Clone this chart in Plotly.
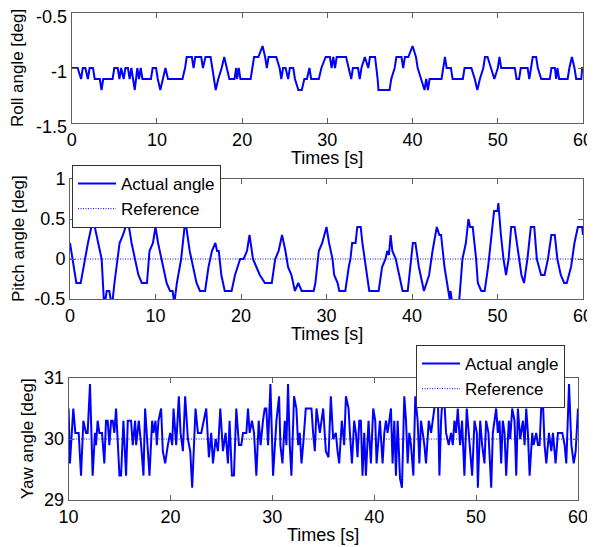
import plotly.graph_objects as go

# ---------------- data ----------------
roll_t = [0, 0.7, 1.1, 1.3, 1.6, 1.9, 2.1, 2.5, 2.7, 3.3, 3.5, 3.7, 4.8, 5.0, 5.4, 5.6, 5.8, 6.1,
          6.3, 6.6, 6.8, 7.0, 7.2, 7.4, 7.7, 7.9, 8.1, 8.3, 9.3, 9.5, 9.9, 10.1, 10.4, 10.7, 11.0,
          11.3, 13.0, 13.3, 13.5, 14.1, 14.3, 14.5, 15.2, 15.4, 15.7, 16.3, 16.7, 16.9, 17.2,
          17.6, 17.9, 18.2, 18.5, 19.1, 19.3, 19.4, 19.6, 19.8, 21.0, 21.2, 21.4, 21.9, 22.4,
          22.7, 22.9, 23.1, 24.0, 24.4, 24.6, 24.8, 25.1, 25.4, 25.6, 26.0, 26.2, 26.6, 27.0,
          27.3, 27.6, 27.9, 28.1, 29.0, 29.3, 29.8, 30.3, 30.5, 30.7, 30.9, 31.1, 32.2, 32.5,
          32.8, 33.0, 33.6, 33.8, 34.0, 34.4, 34.8, 35.0, 35.6, 35.9, 36.0, 37.3, 37.5, 37.9,
          38.1, 38.7, 38.9, 39.1, 39.5, 40.0, 40.4, 40.6, 41.0, 41.4, 41.6, 41.8, 42.0, 43.4,
          43.6, 43.8, 44.0, 44.5, 44.7, 45.9, 46.1, 46.9, 47.3, 47.6, 47.9, 48.3, 48.5, 48.8,
          49.2, 49.6, 50.0, 50.2, 50.4, 52.0, 52.2, 52.5, 52.7, 53.5, 53.7, 53.9, 54.1, 54.5,
          54.7, 55.1, 56.1, 56.3, 56.7, 56.85, 57.0, 57.2, 58.2, 58.4, 58.7, 59.0, 59.2, 59.8,
          59.9, 60.0]
roll_v = [-1, -1, -1.1, -1, -1, -1.1, -1, -1, -1.1, -1.1, -1.2, -1.1, -1.1, -1, -1, -1.1, -1, -1.1,
          -1, -1, -1.1, -1, -1.1, -1.2, -1, -1.1, -1, -1.1, -1.1, -1, -1, -1.1, -1.2, -1.1, -1,
          -1.1, -1.1, -1, -0.9, -0.9, -1, -0.9, -0.9, -1, -0.9, -0.9, -1.1, -1.2, -1.1,
          -1, -0.9, -1, -1.1, -1.1, -1, -1.1, -1, -1.1, -1.1, -1, -0.9, -0.9, -0.8,
          -0.9, -1, -0.9, -0.9, -1, -1.1, -1, -1, -1.1, -1, -1, -1.1, -1.2, -1.2,
          -1.1, -1.1, -1, -1.1, -1.1, -1, -0.9, -0.9, -1, -0.9, -1, -0.9, -0.9, -1,
          -1.1, -1, -1, -1.1, -1, -0.9, -1, -0.9, -0.9, -1.1, -1.2, -1.2, -1.1, -1,
          -0.9, -0.9, -1, -0.9, -0.9, -0.8, -0.9, -1, -1.1, -1.2, -1.1, -1.2, -1.1, -1.1,
          -1, -0.9, -1, -1, -1.1, -1.1, -1, -1, -1.1, -1.2, -1.1, -1, -0.9, -0.9,
          -1, -1.1, -1, -0.9, -1, -1, -1.1, -1.1, -1, -1, -1.1, -1, -0.9, -0.9,
          -1, -1.1, -1.1, -1, -1, -1.1, -1, -1.1, -1.1, -1, -0.9, -1, -1.1, -1.1,
          -1, -1]

pitch_t = [0, 0.74, 1.25, 1.72, 2.1, 2.5, 2.7, 3.1, 3.7, 4.0, 4.3, 4.6, 4.9, 5.2, 5.6, 5.8, 6.2,
           6.5, 6.9, 7.2, 7.6, 8.0, 8.4, 9.0, 9.3, 9.7, 10.0, 10.3, 10.7, 11.3, 11.7, 12.0, 12.2,
           12.5, 13.0, 13.4, 13.6, 14.0, 14.4, 14.8, 15.2, 15.8, 16.2, 16.4, 16.6, 17.0, 17.2,
           17.4, 17.7, 18.1, 18.9, 19.3, 19.9, 20.3, 20.7, 21.0, 21.3, 21.4, 21.8, 22.2, 22.8,
           23.6, 24.0, 24.4, 24.8, 25.2, 25.5, 25.9, 26.3, 26.7, 27.1, 28.5, 28.7, 29.1, 29.5,
           30.0, 30.3, 30.7, 30.9, 31.3, 31.5, 32.2, 32.6, 32.8, 33.0, 33.4, 33.6, 34.0, 34.2,
           34.6, 35.0, 36.1, 36.5, 36.9, 37.1, 37.3, 37.5, 37.7, 38.1, 38.5, 38.9, 39.5, 39.9,
           40.1, 40.4, 40.8, 41.4, 42.0, 42.4, 42.9, 43.2, 43.4, 43.8, 44.2, 44.4, 44.5, 44.7,
           45.5, 45.9, 46.3, 46.6, 46.8, 47.1, 47.5, 47.7, 48.1, 48.5, 48.9, 49.2, 49.6, 50.0,
           50.1, 50.4, 50.7, 51.0, 51.3, 51.6, 52.0, 52.4, 52.8, 53.1, 53.5, 53.9, 54.3, 54.6,
           55.1, 55.5, 55.9, 56.3, 56.7, 57.0, 57.4, 57.8, 58.1, 58.6, 59.0, 59.4, 59.9, 60.0]
pitch_v = [0.2, -0.3, -0.3, 0, 0.2, 0.4, 0.5, 0.3, 0, -0.6, -0.4, -0.4, -0.6, -0.3, 0, 0.2, 0.3,
           0.4, 0.4, 0.2, 0, -0.2, -0.3, -0.3, 0.1, 0.2, 0.4, 0.2, 0, -0.3, -0.4, -0.4, -0.55,
           -0.3, 0, 0.4, 0.4, 0.1, -0.1, -0.3, -0.4, -0.4, -0.1, 0, 0.1, 0.2, 0.1,
           0.1, -0.2, -0.4, -0.4, -0.2, 0, 0, 0.1, 0.3, 0.1, 0, -0.1, -0.2, -0.3,
           -0.3, 0, 0.1, 0.3, 0.1, -0.1, -0.2, -0.4, -0.3, -0.4, -0.4, -0.3, 0.1, 0.2,
           0.4, 0.2, 0, -0.2, -0.3, -0.4, -0.4, -0.1, 0, 0.2, 0.2, 0.4, 0.4, 0.2,
           -0.1, -0.4, -0.4, -0.1, 0, 0.1, 0.05, 0.3, 0.1, 0, -0.2, -0.4, -0.4, 0,
           0.2, 0.2, -0.1, -0.4, -0.2, 0.1, 0.4, 0.3, 0.3, -0.1, -0.4, -0.5, -0.4, -0.55,
           -0.55, 0, 0.2, 0.5, 0.4, 0.4, 0, -0.3, -0.4, -0.4, -0.1, 0.2, 0.6, 0.6,
           0.7, 0.3, 0, -0.2, 0, 0.4, 0.4, 0.1, -0.2, -0.3, 0, 0.4, 0.4, 0,
           -0.2, -0.2, 0, 0.3, 0.3, 0, -0.2, -0.3, -0.3, -0.1, 0.2, 0.4, 0.4, 0.3]
pitch_ref_t = [0, 60]
pitch_ref_v = [0, 0]

yaw_t = [10.0, 10.13, 10.46, 10.66, 10.99, 11.22, 11.45, 11.71, 11.87, 12.1, 12.36, 12.59, 12.69,
         12.85, 13.02, 13.28, 13.51, 13.67, 13.84, 14.0, 14.17, 14.33, 14.49, 14.66, 14.99, 15.15,
         15.38, 15.64, 15.81, 16.13, 16.3, 16.53, 16.63, 16.89, 17.12, 17.35, 17.51, 17.77, 17.94,
         18.2, 18.33, 18.53, 18.66, 18.82, 19.08, 19.25, 19.48, 19.74, 19.97, 20.17, 20.3, 20.56,
         20.82, 20.99, 21.22, 21.44, 21.71, 21.94, 22.13, 22.46, 22.69, 23.02, 23.25, 23.51, 23.77,
         24.0, 24.17, 24.43, 24.66, 24.89, 25.15, 25.41, 25.64, 25.8, 26.03, 26.23, 26.46, 26.72,
         26.95, 27.12, 27.45, 27.61, 27.77, 28.0, 28.2, 28.43, 28.66, 28.85, 29.08, 29.25, 29.41,
         29.58, 29.81, 30.07, 30.4, 30.66, 30.79, 30.99, 31.22, 31.38, 31.54, 31.71, 31.87, 32.13,
         32.36, 32.53, 32.69, 32.86, 33.02, 33.28, 33.51, 33.84, 34.0, 34.17, 34.33, 34.66, 34.99,
         35.25, 35.51, 35.74, 35.97, 36.23, 36.4, 36.56, 36.82, 37.05, 37.22, 37.48, 37.61, 37.81,
         38.03, 38.2, 38.36, 38.53, 38.69, 38.85, 39.02, 39.18, 39.44, 39.67, 39.9, 40.1, 40.23,
         40.43, 40.56, 40.82, 40.99, 41.15, 41.31, 41.48, 41.64, 41.8, 41.97, 42.13, 42.3, 42.53,
         42.72, 42.95, 43.12, 43.28, 43.44, 43.61, 43.84, 44.03, 44.26, 44.43, 44.59, 44.76, 44.92,
         45.08, 45.35, 45.58, 45.74, 45.9, 46.23, 46.4, 46.56, 46.79, 47.05, 47.31, 47.54, 47.71,
         47.87, 48.03, 48.2, 48.43, 48.62, 48.85, 49.08, 49.35, 49.61, 49.84, 50.07, 50.17, 50.4,
         50.59, 50.82, 50.98, 51.21, 51.48, 51.64, 51.97, 52.13, 52.3, 52.46, 52.62, 52.79, 52.95,
         53.21, 53.35, 53.54, 53.77, 53.94, 54.1, 54.33, 54.59, 54.76, 54.92, 55.08, 55.25, 55.51,
         55.64, 55.9, 56.07, 56.23, 56.49, 56.72, 56.89, 57.15, 57.38, 57.54, 57.8, 58.03, 58.26,
         58.46, 58.69, 58.85, 59.12, 59.35, 59.58, 59.77, 60.0]
yaw_v = [30.5, 29.6, 30.5, 30.1, 30.1, 29.4, 30.3, 30.1, 30.1, 30.9, 29.4, 30.1, 29.9,
         30.3, 30.1, 30.1, 29.6, 30.3, 30.3, 29.9, 30.3, 30.3, 30.1, 30.5, 29.4, 29.4,
         30.3, 29.4, 30.3, 30.3, 29.9, 30.3, 29.9, 30.3, 29.9, 29.4, 30.5, 29.7, 29.4,
         30.3, 30.1, 30.3, 29.9, 30.3, 30.5, 29.8, 29.6, 29.9, 30.1, 29.9, 30.5, 29.9,
         30.7, 30.1, 29.8, 30.7, 30.0, 29.8, 29.2, 30.5, 30.1, 30.1, 30.3, 30.5, 29.7,
         30.1, 29.6, 30.0, 29.8, 30.5, 29.8, 30.1, 29.6, 30.3, 29.4, 29.4, 30.5, 29.9,
         29.9, 30.1, 30.1, 30.5, 30.1, 30.3, 30.1, 29.4, 30.3, 29.9, 30.3, 30.5, 30.5,
         29.9, 30.9, 29.4, 30.3, 30.7, 29.9, 29.6, 30.3, 29.9, 30.9, 29.9, 29.4, 30.7,
         30.5, 29.9, 30.1, 29.6, 29.9, 30.5, 30.5, 30.5, 30.1, 29.8, 30.5, 30.1, 30.5,
         29.8, 29.7, 30.7, 30.0, 30.1, 29.8, 29.6, 30.3, 29.9, 30.7, 30.5, 30.1, 29.6,
         30.3, 30.1, 29.7, 30.3, 30.3, 29.4, 30.1, 29.4, 30.3, 29.6, 30.5, 30.3, 29.6,
         30.1, 30.3, 29.6, 30.1, 30.3, 30.1, 30.3, 30.5, 29.6, 30.3, 29.4, 30.3, 29.35,
         29.2, 30.7, 30.3, 29.6, 30.1, 29.9, 29.4, 30.7, 30.3, 29.6, 30.3, 30.1, 29.9,
         29.6, 30.3, 30.1, 30.3, 30.5, 30.8, 29.4, 30.3, 30.9, 30.1, 29.9, 30.1, 29.9,
         30.3, 30.1, 30.5, 29.9, 30.3, 29.4, 30.5, 30.0, 29.4, 30.3, 30.1, 29.2, 30.3,
         29.9, 29.6, 30.3, 30.1, 29.2, 30.1, 30.5, 30.1, 30.3, 29.6, 30.3, 30.1, 29.4,
         30.3, 30.0, 30.5, 30.3, 29.4, 30.5, 30.0, 30.3, 29.9, 30.5, 30.1, 29.4, 30.1,
         29.9, 30.1, 29.9, 29.9, 30.9, 29.9, 29.6, 30.1, 29.8, 30.1, 29.6, 30.1, 30.1,
         30.1, 29.9, 29.6, 30.9, 29.9, 29.6, 29.8, 30.5]
yaw_ref_t = [10, 60]
yaw_ref_v = [30, 30]

x_ticks_top = [0, 10, 20, 30, 40, 50, 60]
x_ticks_yaw = [10, 20, 30, 40, 50, 60]
roll_ticks = [-1.5, -1, -0.5]
roll_tick_text = ["-1.5", "-1", "-0.5"]
pitch_ticks = [-0.5, 0, 0.5, 1]
pitch_tick_text = ["-0.5", "0", "0.5", "1"]
yaw_ticks = [29, 30, 31]
yaw_tick_text = ["29", "30", "31"]

# ---------------- layout helpers ----------------
# The page body has an 8px default margin, so the figure is placed at (8, 8).
OFF = 8
W, H = 595 - OFF, 547 - OFF
FONT = "Liberation Sans, Arial, sans-serif"
BLUE = "#0000ff"
AX = "#606060"


def px(p):
    return (p - OFF) / W


def py(p):
    return 1 - (p - OFF) / H


def dx(p0, p1):
    return [px(p0), px(p1)]


def dy(top, bottom):
    return [py(bottom), py(top)]


def axis(domain, rng, tickvals, ticktext=None, anchor=None, shift=0):
    d = dict(domain=domain, range=rng, tickvals=tickvals, showline=True, mirror="ticks",
             linecolor=AX, linewidth=1, ticks="inside", ticklen=5, tickcolor=AX,
             showgrid=False, zeroline=False, anchor=anchor, ticklabeloverflow="allow",
             ticklabelshift=shift,
             tickfont=dict(family=FONT, size=18, color="black"))
    if ticktext is not None:
        d["ticktext"] = ticktext
    return d


fig = go.Figure()
line_main = dict(color=BLUE, width=2)
line_ref = dict(color=BLUE, width=1, dash="1px,1.5px")

fig.add_trace(go.Scatter(x=roll_t, y=roll_v, mode="lines", line=line_main, showlegend=False,
                         xaxis="x", yaxis="y"))
fig.add_trace(go.Scatter(x=pitch_t, y=pitch_v, mode="lines", line=line_main, name="Actual angle",
                         legend="legend", xaxis="x2", yaxis="y2"))
fig.add_trace(go.Scatter(x=pitch_ref_t, y=pitch_ref_v, mode="lines", line=line_ref, name="Reference",
                         legend="legend", xaxis="x2", yaxis="y2"))
fig.add_trace(go.Scatter(x=yaw_t, y=yaw_v, mode="lines", line=line_main, name="Actual angle",
                         legend="legend2", xaxis="x3", yaxis="y3"))
fig.add_trace(go.Scatter(x=yaw_ref_t, y=yaw_ref_v, mode="lines", line=line_ref, name="Reference",
                         legend="legend2", xaxis="x3", yaxis="y3"))

legend_style = dict(xanchor="left", yanchor="top", bgcolor="white", bordercolor="#303030",
                    borderwidth=1, font=dict(family=FONT, size=17, color="black"),
                    tracegroupgap=0, itemwidth=38)

fig.update_layout(
    width=W, height=H, paper_bgcolor="white", plot_bgcolor="white",
    margin=dict(l=0, r=0, t=0, b=0, autoexpand=False),
    xaxis=axis(dx(71.7, 583), [0, 60], x_ticks_top, anchor="y"),
    yaxis=axis(dy(13, 123), [-1.5, -0.5], roll_ticks, roll_tick_text, anchor="x", shift=4),
    xaxis2=axis(dx(70, 583), [0, 60], x_ticks_top, anchor="y2"),
    yaxis2=axis(dy(179, 299), [-0.5, 1], pitch_ticks, pitch_tick_text, anchor="x2"),
    xaxis3=axis(dx(68.6, 578), [10, 60], x_ticks_yaw, anchor="y3"),
    yaxis3=axis(dy(378, 500), [29, 31], yaw_ticks, yaw_tick_text, anchor="x3"),
    legend=dict(x=px(72), y=py(165), **legend_style),
    legend2=dict(x=px(416), y=py(345), **legend_style),
)

ann_font = dict(family=FONT, size=18, color="black")
yfont = dict(family=FONT, size=17, color="black")
annotations = [
    dict(text="Times [s]", x=px(327), y=py(158), font=ann_font),
    dict(text="Times [s]", x=px(327), y=py(334), font=ann_font),
    dict(text="Times [s]", x=px(323), y=py(535), font=ann_font),
    dict(text="Roll angle [deg]", x=px(18), y=py(68), textangle=-90, font=yfont),
    dict(text="Pitch angle [deg]", x=px(18), y=py(239), textangle=-90, font=yfont),
    dict(text="Yaw angle [deg]", x=px(27), y=py(439), textangle=-90, font=yfont),
]
for a in annotations:
    a.update(xref="paper", yref="paper", showarrow=False, xanchor="center", yanchor="middle")
fig.update_layout(annotations=annotations)

fig.write_html("out.html")
